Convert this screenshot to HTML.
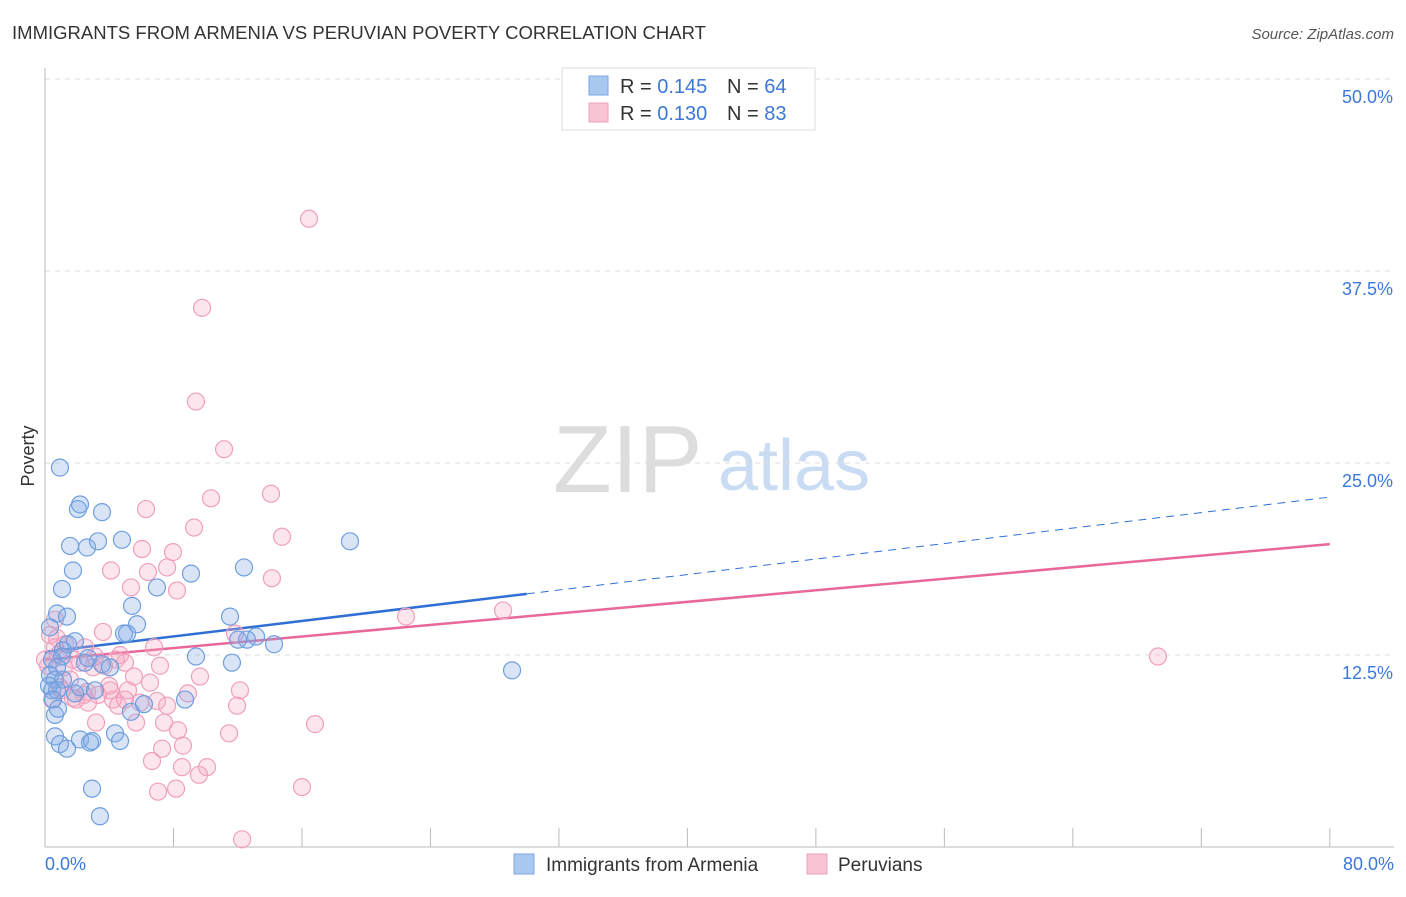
<!DOCTYPE html>
<html><head><meta charset="utf-8"><style>
body{margin:0;background:#fff;font-family:"Liberation Sans",sans-serif}
svg text{font-family:"Liberation Sans",sans-serif}
</style></head><body>
<svg id="chart" width="1406" height="892" xmlns="http://www.w3.org/2000/svg">
<text x="12" y="39" font-size="18" textLength="694" lengthAdjust="spacingAndGlyphs" fill="#333">IMMIGRANTS FROM ARMENIA VS PERUVIAN POVERTY CORRELATION CHART</text>
<text x="1394" y="39" font-size="15" fill="#555" text-anchor="end" font-style="italic">Source: ZipAtlas.com</text>
<g>
<text x="553" y="492" font-size="96" fill="#ddd" font-family="Liberation Serif,serif">ZIP</text>
<text x="718" y="490" font-size="72" fill="#c9dcf3">atlas</text>
</g>
<text transform="translate(34,456) rotate(-90)" font-size="18" fill="#333" text-anchor="middle">Poverty</text>
<g id="grid"></g>
<g id="axes"></g>
<g id="trend"></g>
<g id="pts"></g>
<g>
<rect x="562" y="68" width="253" height="62" fill="#fff" stroke="#ddd"/>
<rect x="589" y="76" width="19" height="19" fill="#a9c8f0" stroke="#7aa6e0"/>
<rect x="589" y="103" width="19" height="19" fill="#f8c4d4" stroke="#f0a0bc"/>
<text x="620" y="93" font-size="20" fill="#333">R = <tspan fill="#3b78d8">0.145</tspan></text>
<text x="727" y="93" font-size="20" fill="#333">N = <tspan fill="#3b78d8">64</tspan></text>
<text x="620" y="120" font-size="20" fill="#333">R = <tspan fill="#3b78d8">0.130</tspan></text>
<text x="727" y="120" font-size="20" fill="#333">N = <tspan fill="#3b78d8">83</tspan></text>
</g>
<g>
<rect x="514" y="854" width="20" height="20" fill="#a9c8f0" stroke="#7aa6e0"/>
<text x="546" y="871" font-size="19" fill="#333">Immigrants from Armenia</text>
<rect x="807" y="854" width="20" height="20" fill="#f8c4d4" stroke="#f0a0bc"/>
<text x="838" y="871" font-size="19" fill="#333">Peruvians</text>
</g>
</svg>
<script>
const blueX=[.93,2.18,2.05,3.55,1.56,2.62,3.30,4.79,18.99,1.74,1.06,6.97,9.09,12.39,5.42,.75,1.37,11.52,.31,4.92,5.73,5.11,1.87,1.43,1.12,1.06,2.68,3.55,4.05,2.49,13.14,12.58,12.02,14.26,9.40,11.64,.44,.75,.31,.62,1.12,.44,.25,.75,1.87,.50,.62,8.72,5.35,6.16,.81,.62,.93,1.37,2.18,2.80,2.93,4.36,4.67,2.93,3.42,29.08,2.18,3.11];
const blueY=[24.7,22.3,22.0,21.8,19.6,19.5,19.9,20.0,19.9,18.0,16.8,16.9,17.8,18.2,15.7,15.2,15.0,15.0,14.3,13.9,14.5,13.9,13.4,13.2,12.8,12.4,12.3,11.9,11.7,12.0,13.7,13.5,13.5,13.2,12.4,12.0,12.2,11.7,11.2,10.9,10.9,10.2,10.5,10.2,10.0,9.6,8.6,9.6,8.8,9.3,9.0,7.2,6.7,6.4,7.0,6.8,6.9,7.4,6.9,3.8,2.0,11.5,10.4,10.2];
const pinkX=[16.44,9.78,9.40,11.15,10.34,14.07,6.29,9.28,14.76,6.04,7.97,4.11,7.60,6.41,14.13,5.35,8.22,28.52,22.48,.62,.75,3.61,11.83,6.79,4.67,3.11,4.98,4.42,7.16,2.18,1.18,.19,1.74,2.99,5.54,9.65,3.99,6.54,5.17,2.62,3.30,2.43,8.90,6.97,1.74,.93,4.23,1.93,12.14,11.96,7.60,4.55,5.92,3.18,5.67,7.41,16.81,8.28,11.46,8.59,7.29,6.66,8.53,10.09,9.59,7.04,8.16,16.00,12.27,69.30,.31,.62,1.25,2.49,3.67,1.56,.81,0,.44,2.68,4.05,4.98,1.06];
const pinkY=[40.9,35.1,29.0,25.9,22.7,23.0,22.0,20.8,20.2,19.4,19.2,18.0,18.2,17.9,17.5,16.9,16.7,15.4,15.0,14.8,13.6,14.0,13.9,13.0,12.5,12.4,12.0,12.2,11.8,12.0,11.7,11.8,12.2,11.7,11.1,11.1,10.5,10.7,10.2,10.1,9.9,9.9,10.0,9.5,9.7,10.4,9.6,9.6,10.2,9.2,9.2,9.2,9.4,8.1,8.1,8.1,8.0,7.6,7.4,6.6,6.4,5.6,5.2,5.2,4.7,3.6,3.8,3.9,.5,12.4,13.8,13.0,13.2,13.0,11.8,10.9,12.5,12.2,9.6,9.4,10.2,9.6,10.2];
const yTicks=[12.5,25.0,37.5,50.0];
const yTickLabels=["12.5%","25.0%","37.5%","50.0%"];
const xTicks=[0,8,16,24,32,40,48,56,64,72,80];
const blueTrend=[12.7,0.126,30];
const pinkTrend=[12.2,0.094];
const NS="http://www.w3.org/2000/svg";
const sx=v=>45+v*16.06, sy=v=>847-v*15.36;
function mk(p,t,a){const e=document.createElementNS(NS,t);for(const k in a)e.setAttribute(k,a[k]);p.appendChild(e);return e;}
const grid=document.getElementById('grid'),axes=document.getElementById('axes'),tr=document.getElementById('trend'),pts=document.getElementById('pts');
yTicks.forEach((v,i)=>{
 const l=mk(grid,'line',{x1:45,x2:1394,y1:sy(v),y2:sy(v),stroke:'#ddd','stroke-dasharray':'5,5'});
 
 
 const t=mk(axes,'text',{x:1393,y:sy(v)+24,'font-size':18,fill:'#3b78d8','text-anchor':'end'});
 t.textContent=yTickLabels[i];
 
 
});
mk(axes,'line',{x1:45,x2:45,y1:68,y2:847,stroke:'#bbb'});
mk(axes,'line',{x1:45,x2:1394,y1:847,y2:847,stroke:'#bbb'});
xTicks.forEach(v=>{const t=mk(axes,'line',{x1:sx(v),x2:sx(v),y1:828,y2:847,stroke:'#bbb'});
 
 });
const x0=mk(axes,'text',{x:45,y:870,'font-size':18,fill:'#3b78d8'});x0.textContent='0.0%';


const x1=mk(axes,'text',{x:1394,y:870,'font-size':18,fill:'#3b78d8','text-anchor':'end'});x1.textContent='80.0%';


function drawPts(X,Y,fill,stroke,name){X.forEach((x,i)=>{const c=mk(pts,'circle',{cx:sx(x),cy:sy(Y[i]),r:8.5,fill:fill,stroke:stroke,'stroke-width':1.2});
 
 });}
drawPts(pinkX,pinkY,'rgba(244,170,196,0.3)','#f0a0bc','peruvian-point');
drawPts(blueX,blueY,'rgba(130,170,230,0.3)','#6f9fe0','armenia-point');
const bl=mk(tr,'line',{x1:sx(0),y1:sy(blueTrend[0]),x2:sx(blueTrend[2]),y2:sy(blueTrend[0]+blueTrend[1]*blueTrend[2]),stroke:'#2f6fd6','stroke-width':2.5});


const bd=mk(tr,'line',{x1:sx(blueTrend[2]),y1:sy(blueTrend[0]+blueTrend[1]*blueTrend[2]),x2:sx(80),y2:sy(blueTrend[0]+blueTrend[1]*80),stroke:'#2f6fd6','stroke-width':1,'stroke-dasharray':'8,6'});


const pl=mk(tr,'line',{x1:sx(0),y1:sy(pinkTrend[0]),x2:sx(80),y2:sy(pinkTrend[0]+pinkTrend[1]*80),stroke:'#e8689a','stroke-width':2.5});


</script>
</body></html>
